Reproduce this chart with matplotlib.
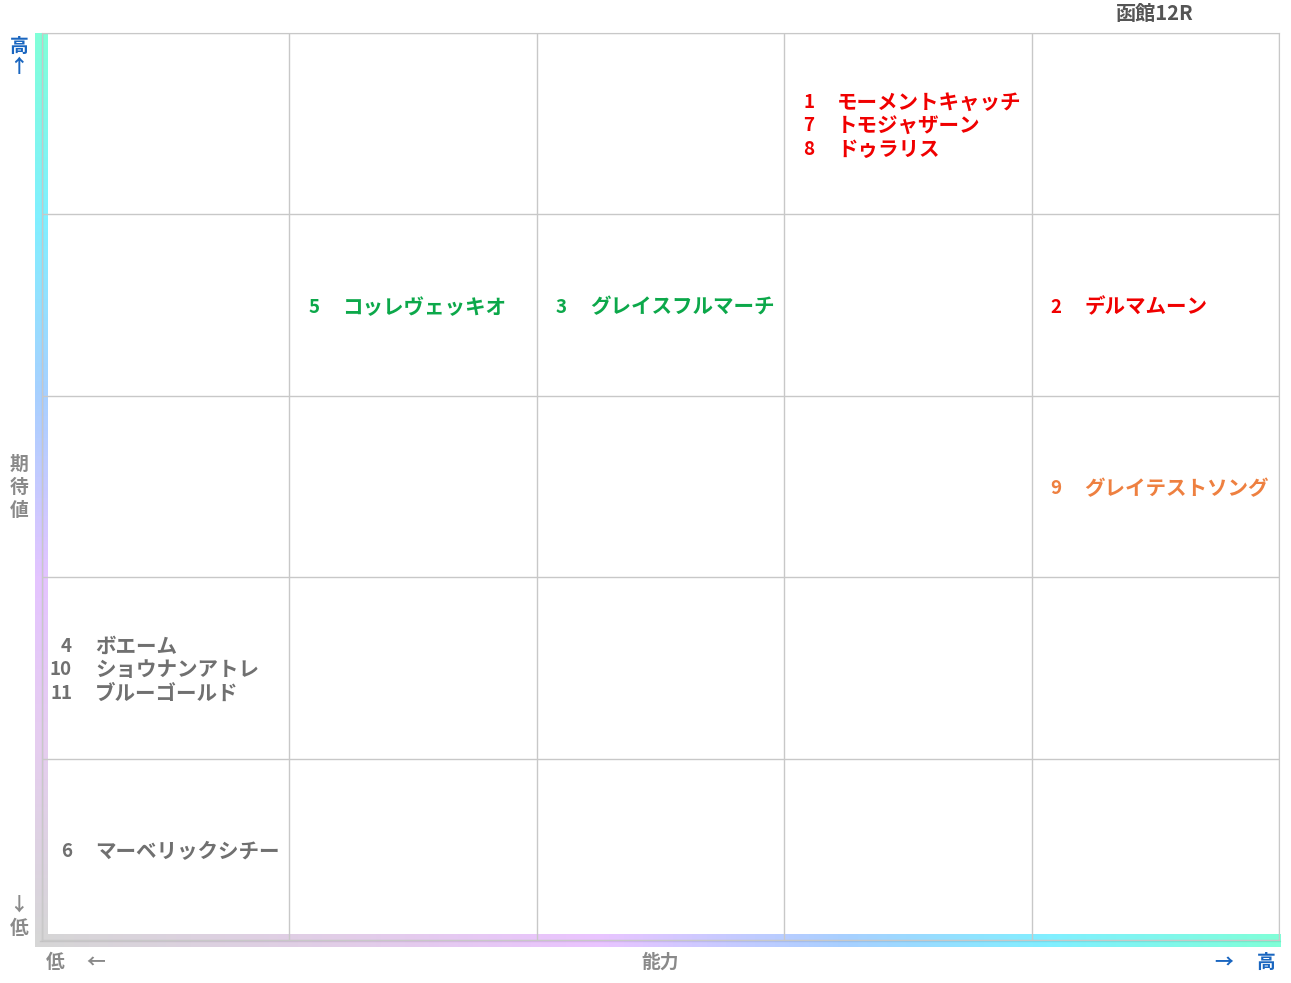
import numpy as np
import matplotlib
matplotlib.use('Agg')
import matplotlib.pyplot as plt
from matplotlib.colors import LinearSegmentedColormap

plt.rcParams['font.family'] = ['Noto Sans CJK JP', 'DejaVu Sans']

# datos de la carrera
titulo = '函館12R'
numeros = [1, 7, 8, 5, 3, 2, 9, 4, 10, 11, 6]
nombres = ['モーメントキャッチ', 'トモジャザーン', 'ドゥラリス', 'コッレヴェッキオ',
           'グレイスフルマーチ', 'デルマムーン', 'グレイテストソング', 'ボエーム',
           'ショウナンアトレ', 'ブルーゴールド', 'マーベリックシチー']
capacidad = [4, 4, 4, 2, 3, 5, 5, 1, 1, 1, 1]   # columna 1-5 (能力)
expectativa = [5, 5, 5, 4, 4, 4, 3, 2, 2, 2, 1]  # fila 1-5 (期待値)
colores = ['#f00000', '#f00000', '#f00000', '#0ca84a', '#0ca84a', '#f00000',
           '#ee8040', '#707070', '#707070', '#707070', '#707070']

W, H = 1291, 983
x0, x1, y0, y1 = 42, 1279, 33, 940   # area de la grilla en pixeles


def main():
    fig = plt.figure(figsize=(W / 100, H / 100), dpi=100)

    # capa de fondo en pixeles para las barras de gradiente
    bg = fig.add_axes([0, 0, 1, 1])
    bg.set_xlim(0, W)
    bg.set_ylim(H, 0)
    bg.axis('off')

    ax = fig.add_axes([x0 / W, (H - y1) / H, (x1 - x0) / W, (y1 - y0) / H])
    ax.set_xlim(0, 5)
    ax.set_ylim(0, 5)
    ax.set_xticks(range(6))
    ax.set_yticks(range(6))
    ax.grid(color='#c8c8c8', lw=1)
    ax.tick_params(length=0, labelbottom=False, labelleft=False)
    for s in ax.spines.values():
        s.set_color('#c8c8c8')
    ax.set_facecolor('none')

    cm_v = LinearSegmentedColormap.from_list('v', [
        (0.0, '#80ffd8'), (0.2, '#80f0ff'), (0.4, '#a8d0ff'),
        (0.6, '#e4c4ff'), (0.78, '#e6cdf0'), (1.0, '#d6d6d6')])
    cm_h = LinearSegmentedColormap.from_list('h', [
        (0.0, '#d6d6d6'), (0.25, '#e2cde8'), (0.45, '#eac4ff'),
        (0.65, '#a8d0ff'), (0.82, '#80f0ff'), (1.0, '#80ffd8')])
    grad = np.linspace(0, 1, 256)
    bg.imshow(grad[:, None], cmap=cm_v, aspect='auto',
              extent=(35, 48, 942, 33), zorder=1)
    bg.imshow(grad[None, :], cmap=cm_h, aspect='auto',
              extent=(35, 1281, 947, 934), zorder=2)
    bg.plot([41.5, 41.5], [35, 940], color='#000000', alpha=0.08, lw=1, zorder=3)
    bg.plot([40, 1280], [940.5, 940.5], color='#000000', alpha=0.08, lw=1, zorder=3)

    # textos de los ejes
    azul = '#1a66c0'
    gris = '#8a8a8a'
    fs = 13.5
    bg.text(19, 46, '高', color=azul, fontsize=fs, weight='bold', ha='center', va='center')
    bg.text(19, 67, '↑', color=azul, fontsize=fs, weight='bold', ha='center', va='center')
    for i, c in enumerate('期待値'):
        bg.text(19, 464 + i * 23, c, color=gris, fontsize=fs, weight='bold',
                ha='center', va='center')
    bg.text(19, 905, '↓', color=gris, fontsize=fs, weight='bold', ha='center', va='center')
    bg.text(19, 928, '低', color=gris, fontsize=fs, weight='bold', ha='center', va='center')
    bg.text(55, 962, '低', color=gris, fontsize=fs, weight='bold', ha='center', va='center')
    bg.text(96, 962, '←', color=gris, fontsize=fs, weight='bold', ha='center', va='center')
    bg.text(660, 962, '能力', color=gris, fontsize=fs, weight='bold', ha='center', va='center')
    bg.text(1224, 962, '→', color=azul, fontsize=fs, weight='bold', ha='center', va='center')
    bg.text(1266, 962, '高', color=azul, fontsize=fs, weight='bold', ha='center', va='center')
    bg.text(1155, 14, titulo, color='#555555', fontsize=14.5, weight='bold',
            ha='center', va='center')

    # caballos por celda
    cw = (x1 - x0) / 5
    chh = (y1 - y0) / 5
    paso = 23.5 / chh
    baja = 2 / chh
    celdas = {}
    for i in range(len(numeros)):
        celdas.setdefault((capacidad[i], expectativa[i]), []).append(i)
    for (c, r), idx in celdas.items():
        n = len(idx)
        for k, i in enumerate(idx):
            y = r - 0.5 - (k - (n - 1) / 2) * paso - baja
            ax.text(c - 1 + 30 / cw, y, str(numeros[i]), color=colores[i],
                    fontsize=13.5, weight='bold', ha='right', va='center')
            ax.text(c - 1 + 53 / cw, y, nombres[i], color=colores[i],
                    fontsize=14.8, weight='bold', ha='left', va='center')

    fig.savefig('out.png', dpi=100)


if __name__ == "__main__":
    main()
